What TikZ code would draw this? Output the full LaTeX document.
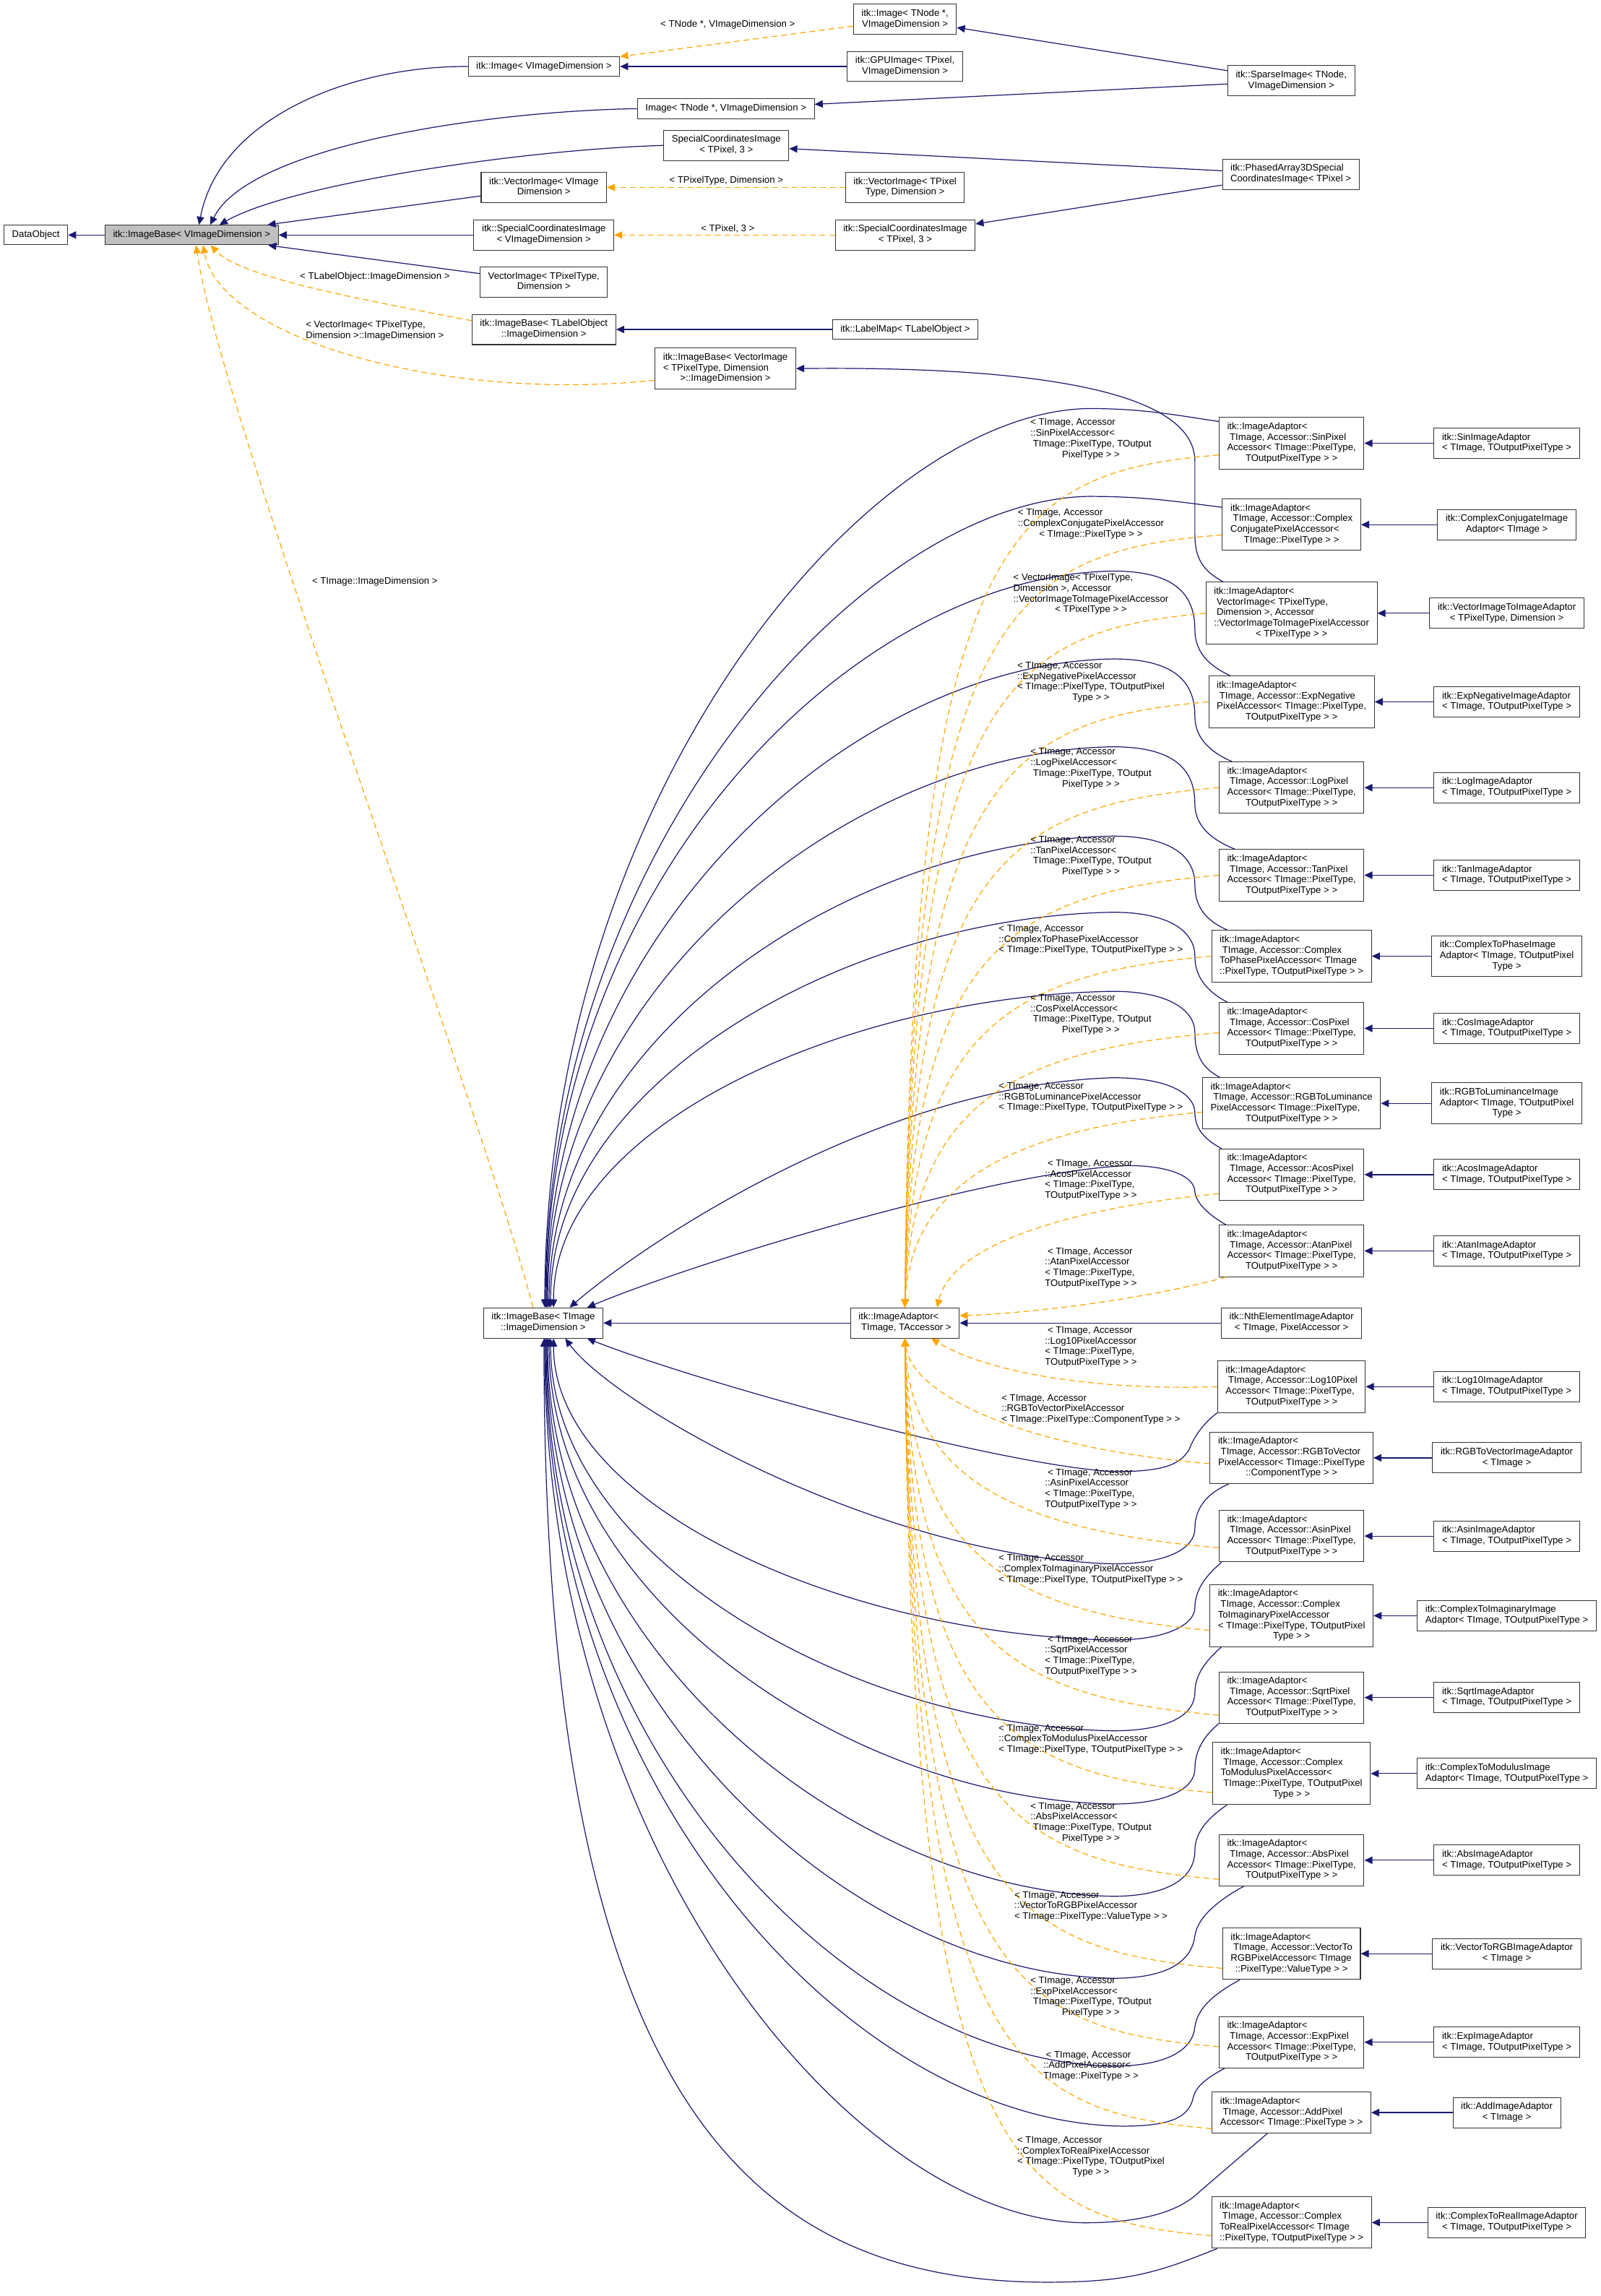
\documentclass[tikz,border=0pt]{standalone}
\usepackage{fontspec}
\setmainfont{Liberation Sans}
\usetikzlibrary{arrows.meta}
\definecolor{inhblue}{HTML}{191970}
\definecolor{tmplorange}{HTML}{FFA500}
% lines left aligned, last line centred
\newcommand{\dlines}[2]{\begin{tabular}{@{}l@{}}#1\\\multicolumn{1}{@{}c@{}}{#2}\end{tabular}}
\tikzset{
  cls/.style={draw=black!80, line width=0.5pt, fill=white, inner xsep=5.5pt, inner ysep=3.1pt, minimum height=13.5pt, font=\fontsize{6.5}{7.25}\selectfont},
  rootcls/.style={cls, fill=gray!50},
  elabel/.style={inner sep=0pt, font=\fontsize{6.5}{7.25}\selectfont},
  inhedge/.style={draw=inhblue, line width=0.6pt, -{Triangle[length=5.5pt,width=5pt]}},
  tmpledge/.style={draw=tmplorange, line width=0.6pt, dash pattern=on 4pt off 2.5pt, -{Triangle[length=5.5pt,width=5pt]}},
}
\begin{document}
\begin{tikzpicture}[x=1pt,y=-1pt]
\useasboundingbox (0,0) rectangle (1093,1568);
% top classes
\node[cls] (dobj) at (24.5,160.5) {DataObject};
\node[rootcls] (ibvd) at (130.9,160.5) {itk::ImageBase< VImageDimension >};
\node[cls] (imgvd) at (371.5,45.4) {itk::Image< VImageDimension >};
\node[cls] (imgtnitk) at (618,13.2) {\dlines{itk::Image< TNode *,}{VImageDimension >}};
\node[cls] (gpu) at (618,45.4) {\dlines{itk::GPUImage< TPixel,}{VImageDimension >}};
\node[cls] (sparse) at (881.8,55.2) {\dlines{itk::SparseImage< TNode,}{VImageDimension >}};
\node[cls] (imgtn) at (495.7,74.2) {Image< TNode *, VImageDimension >};
\node[cls] (sci3) at (496,99.3) {\dlines{SpecialCoordinatesImage}{< TPixel, 3 >}};
\node[cls] (phased) at (881.5,119) {\dlines{itk::PhasedArray3DSpecial}{CoordinatesImage< TPixel >}};
\node[cls] (vimgvd) at (371.4,128) {\dlines{itk::VectorImage< VImage}{Dimension >}};
\node[cls] (vimgtpitk) at (618,128) {\dlines{itk::VectorImage< TPixel}{Type, Dimension >}};
\node[cls] (scivd) at (371.4,160.5) {\dlines{itk::SpecialCoordinatesImage}{< VImageDimension >}};
\node[cls] (sci3itk) at (618.2,160.5) {\dlines{itk::SpecialCoordinatesImage}{< TPixel, 3 >}};
\node[cls] (vimgtp) at (371.4,192.7) {\dlines{VectorImage< TPixelType,}{Dimension >}};
\node[cls] (ibtl) at (371.4,225) {\dlines{itk::ImageBase< TLabelObject}{::ImageDimension >}};
\node[cls] (lmap) at (618.2,225) {itk::LabelMap< TLabelObject >};
\node[cls] (ibvi) at (495.4,251.7) {\dlines{itk::ImageBase< VectorImage\\< TPixelType, Dimension}{>::ImageDimension >}};
% middle classes
\node[cls] (ibti) at (371,903.5) {\dlines{itk::ImageBase< TImage}{::ImageDimension >}};
\node[cls] (ia) at (618,903.5) {\dlines{itk::ImageAdaptor<}{~TImage, TAccessor >}};
% adaptor instances
\node[cls] (a1) at (882,302.7) {\dlines{itk::ImageAdaptor<\\~TImage, Accessor::SinPixel\\Accessor< TImage::PixelType,}{TOutputPixelType > >}};
\node[cls] (a2) at (882,358.3) {\dlines{itk::ImageAdaptor<\\~TImage, Accessor::Complex\\ConjugatePixelAccessor<}{TImage::PixelType > >}};
\node[cls] (a3) at (882,418.8) {\dlines{itk::ImageAdaptor<\\~VectorImage< TPixelType,\\~Dimension >, Accessor\\::VectorImageToImagePixelAccessor}{< TPixelType > >}};
\node[cls] (a4) at (882,479.3) {\dlines{itk::ImageAdaptor<\\~TImage, Accessor::ExpNegative\\PixelAccessor< TImage::PixelType,}{TOutputPixelType > >}};
\node[cls] (a5) at (882,537.9) {\dlines{itk::ImageAdaptor<\\~TImage, Accessor::LogPixel\\Accessor< TImage::PixelType,}{TOutputPixelType > >}};
\node[cls] (a6) at (882,597.7) {\dlines{itk::ImageAdaptor<\\~TImage, Accessor::TanPixel\\Accessor< TImage::PixelType,}{TOutputPixelType > >}};
\node[cls] (a7) at (882,653) {\dlines{itk::ImageAdaptor<\\~TImage, Accessor::Complex\\ToPhasePixelAccessor< TImage}{::PixelType, TOutputPixelType > >}};
\node[cls] (a8) at (882,702.3) {\dlines{itk::ImageAdaptor<\\~TImage, Accessor::CosPixel\\Accessor< TImage::PixelType,}{TOutputPixelType > >}};
\node[cls] (a9) at (882,753.5) {\dlines{itk::ImageAdaptor<\\~TImage, Accessor::RGBToLuminance\\PixelAccessor< TImage::PixelType,}{TOutputPixelType > >}};
\node[cls] (a10) at (882,802.2) {\dlines{itk::ImageAdaptor<\\~TImage, Accessor::AcosPixel\\Accessor< TImage::PixelType,}{TOutputPixelType > >}};
\node[cls] (a11) at (882,854.3) {\dlines{itk::ImageAdaptor<\\~TImage, Accessor::AtanPixel\\Accessor< TImage::PixelType,}{TOutputPixelType > >}};
\node[cls] (a12) at (882,903.5) {\dlines{itk::NthElementImageAdaptor}{< TImage, PixelAccessor >}};
\node[cls] (a13) at (882,947) {\dlines{itk::ImageAdaptor<\\~TImage, Accessor::Log10Pixel\\Accessor< TImage::PixelType,}{TOutputPixelType > >}};
\node[cls] (a14) at (882,995.6) {\dlines{itk::ImageAdaptor<\\~TImage, Accessor::RGBToVector\\PixelAccessor< TImage::PixelType}{::ComponentType > >}};
\node[cls] (a15) at (882,1049) {\dlines{itk::ImageAdaptor<\\~TImage, Accessor::AsinPixel\\Accessor< TImage::PixelType,}{TOutputPixelType > >}};
\node[cls] (a16) at (882,1103.4) {\dlines{itk::ImageAdaptor<\\~TImage, Accessor::Complex\\ToImaginaryPixelAccessor\\< TImage::PixelType, TOutputPixel}{Type > >}};
\node[cls] (a17) at (882,1159.3) {\dlines{itk::ImageAdaptor<\\~TImage, Accessor::SqrtPixel\\Accessor< TImage::PixelType,}{TOutputPixelType > >}};
\node[cls] (a18) at (882,1211.2) {\dlines{itk::ImageAdaptor<\\~TImage, Accessor::Complex\\ToModulusPixelAccessor<\\~TImage::PixelType, TOutputPixel}{Type > >}};
\node[cls] (a19) at (882,1270.4) {\dlines{itk::ImageAdaptor<\\~TImage, Accessor::AbsPixel\\Accessor< TImage::PixelType,}{TOutputPixelType > >}};
\node[cls] (a20) at (882,1334.2) {\dlines{itk::ImageAdaptor<\\~TImage, Accessor::VectorTo\\RGBPixelAccessor< TImage}{::PixelType::ValueType > >}};
\node[cls] (a21) at (882,1394.7) {\dlines{itk::ImageAdaptor<\\~TImage, Accessor::ExpPixel\\Accessor< TImage::PixelType,}{TOutputPixelType > >}};
\node[cls] (a22) at (882,1442.7) {\dlines{itk::ImageAdaptor<\\~TImage, Accessor::AddPixel}{Accessor< TImage::PixelType > >}};
\node[cls] (a23) at (882,1517.8) {\dlines{itk::ImageAdaptor<\\~TImage, Accessor::Complex\\ToRealPixelAccessor< TImage}{::PixelType, TOutputPixelType > >}};
% final adaptors
\node[cls] (f1) at (1029,302.7) {\dlines{itk::SinImageAdaptor}{< TImage, TOutputPixelType >}};
\node[cls] (f2) at (1029,358.3) {\dlines{itk::ComplexConjugateImage}{Adaptor< TImage >}};
\node[cls] (f3) at (1029,418.8) {\dlines{itk::VectorImageToImageAdaptor}{< TPixelType, Dimension >}};
\node[cls] (f4) at (1029,479.3) {\dlines{itk::ExpNegativeImageAdaptor}{< TImage, TOutputPixelType >}};
\node[cls] (f5) at (1029,537.9) {\dlines{itk::LogImageAdaptor}{< TImage, TOutputPixelType >}};
\node[cls] (f6) at (1029,597.7) {\dlines{itk::TanImageAdaptor}{< TImage, TOutputPixelType >}};
\node[cls] (f7) at (1029,653) {\dlines{itk::ComplexToPhaseImage\\Adaptor< TImage, TOutputPixel}{Type >}};
\node[cls] (f8) at (1029,702.3) {\dlines{itk::CosImageAdaptor}{< TImage, TOutputPixelType >}};
\node[cls] (f9) at (1029,753.5) {\dlines{itk::RGBToLuminanceImage\\Adaptor< TImage, TOutputPixel}{Type >}};
\node[cls] (f10) at (1029,802.2) {\dlines{itk::AcosImageAdaptor}{< TImage, TOutputPixelType >}};
\node[cls] (f11) at (1029,854.3) {\dlines{itk::AtanImageAdaptor}{< TImage, TOutputPixelType >}};
\node[cls] (f13) at (1029,947) {\dlines{itk::Log10ImageAdaptor}{< TImage, TOutputPixelType >}};
\node[cls] (f14) at (1029,995.6) {\dlines{itk::RGBToVectorImageAdaptor}{< TImage >}};
\node[cls] (f15) at (1029,1049) {\dlines{itk::AsinImageAdaptor}{< TImage, TOutputPixelType >}};
\node[cls] (f16) at (1029,1103.4) {\dlines{itk::ComplexToImaginaryImage}{Adaptor< TImage, TOutputPixelType >}};
\node[cls] (f17) at (1029,1159.3) {\dlines{itk::SqrtImageAdaptor}{< TImage, TOutputPixelType >}};
\node[cls] (f18) at (1029,1211.2) {\dlines{itk::ComplexToModulusImage}{Adaptor< TImage, TOutputPixelType >}};
\node[cls] (f19) at (1029,1270.4) {\dlines{itk::AbsImageAdaptor}{< TImage, TOutputPixelType >}};
\node[cls] (f20) at (1029,1334.2) {\dlines{itk::VectorToRGBImageAdaptor}{< TImage >}};
\node[cls] (f21) at (1029,1394.7) {\dlines{itk::ExpImageAdaptor}{< TImage, TOutputPixelType >}};
\node[cls] (f22) at (1029,1442.7) {\dlines{itk::AddImageAdaptor}{< TImage >}};
\node[cls] (f23) at (1029,1517.8) {\dlines{itk::ComplexToRealImageAdaptor}{< TImage, TOutputPixelType >}};

% top edges
\draw[inhedge] (ibvd) -- (dobj);
\draw[inhedge] (imgvd.west) .. controls (240,45) and (150,80) .. ([xshift=5pt]ibvd.north);
\draw[inhedge] (imgtn.west) .. controls (330,76) and (170,100) .. ([xshift=12.7pt]ibvd.north);
\draw[inhedge] (sci3.west) .. controls (360,102) and (200,125) .. ([xshift=19pt]ibvd.north);
\draw[inhedge] (vimgvd) -- (ibvd);
\draw[inhedge] (scivd) -- (ibvd);
\draw[inhedge] (vimgtp) -- (ibvd);
\draw[inhedge] (gpu) -- (imgvd);
\draw[tmpledge] (imgtnitk) -- (imgvd);
\draw[inhedge] (sparse) -- (imgtnitk);
\draw[inhedge] (sparse) -- (imgtn);
\draw[inhedge] (phased) -- (sci3);
\draw[inhedge] (phased) -- (sci3itk);
\draw[tmpledge] (vimgtpitk) -- (vimgvd);
\draw[tmpledge] (sci3itk) -- (scivd);
\draw[inhedge] (lmap) -- (ibtl);
\draw[tmpledge] ([yshift=6pt]ibtl.west) .. controls (250,205) and (165,190) .. ([xshift=13pt]ibvd.south);
\draw[tmpledge] ([yshift=-8pt]ibvi.west) .. controls (300,275) and (150,230) .. ([xshift=7.8pt]ibvd.south);
\draw[tmpledge] ([xshift=-7pt]ibti.north) .. controls (330,760) and (150,280) .. ([xshift=3pt]ibvd.south);
\node[elabel] (ltnode) at (497,17) {< TNode *, VImageDimension >};
\node[elabel] (ltpix) at (496,123.5) {< TPixelType, Dimension >};
\node[elabel] (lpix3) at (497,156) {< TPixel, 3 >};
\node[elabel] (llabel) at (256,189) {< TLabelObject::ImageDimension >};
\node[elabel] (lvec) at (256,226) {\dlines{< VectorImage< TPixelType,}{Dimension >::ImageDimension >}};
\node[elabel] (limg) at (256,397) {< TImage::ImageDimension >};

% middle edges
\draw[inhedge] (ia) -- (ibti);
\draw[inhedge] (a12) -- (ia);
\draw[inhedge] ([xshift=12pt]a3.north west) .. controls (822,390) and (816,382) .. (816,365) -- (816,315) .. controls (816,270) and (720,250) .. (ibvi.east);

% blue edges above
\draw[inhedge] ([yshift=-3pt]a1.north west) .. controls (800,283) and (780,279) .. (743,279) .. controls (590,282) and (373,545) .. ([xshift=1pt]ibti.north);
\draw[inhedge] ([yshift=-6pt]a2.north west) .. controls (800,342) and (780,339) .. (743,339) .. controls (590,342) and (373,580) .. ([xshift=1.5pt]ibti.north);
\draw[inhedge] ([xshift=15pt]a4.north west) .. controls (824,454) and (816,444) .. (816,430) .. controls (816,404) and (800,390) .. (760,390) .. controls (580,393) and (373,605) .. ([xshift=2pt]ibti.north);
\draw[inhedge] ([xshift=9pt]a5.north west) .. controls (825,513) and (816,503) .. (816,489) .. controls (816,464) and (800,450) .. (760,450) .. controls (580,453) and (373.5,640) .. ([xshift=2.5pt]ibti.north);
\draw[inhedge] ([xshift=11pt]a6.north west) .. controls (826,573) and (816,563) .. (816,549) .. controls (816,524) and (800,510) .. (760,510) .. controls (580,513) and (374,674) .. ([xshift=3pt]ibti.north);
\draw[inhedge] ([xshift=11pt]a7.north west) .. controls (822,628) and (816,618) .. (816,604) .. controls (816,585) and (800,571) .. (760,571) .. controls (580,574) and (375,708) .. ([xshift=4pt]ibti.north);
\draw[inhedge] ([xshift=6pt]a8.north west) .. controls (824,677) and (816,667) .. (816,653) .. controls (816,637) and (800,623) .. (760,623) .. controls (580,626) and (376,738) .. ([xshift=5pt]ibti.north);
\draw[inhedge] ([xshift=12pt]a9.north west) .. controls (820,729) and (816,719) .. (816,705) .. controls (816,691) and (800,677) .. (760,677) .. controls (580,680) and (378,768) .. ([xshift=7pt]ibti.north);
\draw[inhedge] ([xshift=2pt]a10.north west) .. controls (822,778) and (816,770) .. (816,760) .. controls (816,748) and (800,736) .. (760,736) .. controls (600,741) and (440,849) .. ([xshift=18pt]ibti.north);
\draw[inhedge] ([xshift=5pt]a11.north west) .. controls (826,830) and (817,822) .. (816,814) .. controls (816,804) and (800,796) .. (770,796) .. controls (680,800) and (480,860) .. ([xshift=30pt]ibti.north);

% blue edges below
\draw[inhedge] (a13.south west) .. controls (822,972) and (816,980) .. (812,990) .. controls (805,1002) and (790,1005) .. (760,1005) .. controls (680,1000) and (480,945) .. ([xshift=30pt]ibti.south);
\draw[inhedge] ([xshift=13pt]a14.south west) .. controls (824,1020) and (816,1030) .. (816,1044) .. controls (816,1056) and (800,1068) .. (760,1068) .. controls (600,1063) and (420,960) .. ([xshift=15pt]ibti.south);
\draw[inhedge] ([xshift=2pt]a15.south west) .. controls (826,1074) and (816,1084) .. (816,1098) .. controls (816,1108) and (800,1120) .. (760,1120) .. controls (580,1117) and (378,1030) .. ([xshift=7pt]ibti.south);
\draw[inhedge] ([xshift=8pt]a16.south west) .. controls (826,1132) and (816,1142) .. (816,1156) .. controls (816,1170) and (800,1182) .. (760,1182) .. controls (580,1179) and (376,1062) .. ([xshift=5pt]ibti.south);
\draw[inhedge] (a17.south west) .. controls (824,1184) and (816,1194) .. (816,1208) .. controls (816,1220) and (800,1232) .. (760,1232) .. controls (580,1229) and (375,1090) .. ([xshift=4pt]ibti.south);
\draw[inhedge] ([xshift=10pt]a18.south west) .. controls (827,1240) and (816,1250) .. (816,1264) .. controls (816,1281) and (800,1295) .. (760,1295) .. controls (580,1292) and (374,1125) .. ([xshift=3pt]ibti.south);
\draw[inhedge] ([xshift=17pt]a19.south west) .. controls (835,1296) and (818,1308) .. (816,1322) .. controls (814,1338) and (800,1351) .. (760,1351) .. controls (580,1348) and (373.5,1160) .. ([xshift=2.5pt]ibti.south);
\draw[inhedge] ([xshift=12pt]a20.south west) .. controls (832,1360) and (818,1370) .. (816,1384) .. controls (815,1398) and (800,1411) .. (760,1411) .. controls (580,1408) and (373,1195) .. ([xshift=2pt]ibti.south);
\draw[inhedge] ([xshift=4pt]a21.south west) .. controls (826,1418) and (817,1424) .. (815,1432) .. controls (812,1446) and (800,1452) .. (766,1452) .. controls (580,1449) and (372.5,1220) .. ([xshift=1.5pt]ibti.south);
\draw[inhedge] ([xshift=38pt]a22.south west) -- (820,1496) .. controls (810,1506) and (790,1518) .. (740,1518) .. controls (580,1515) and (372,1260) .. ([xshift=1pt]ibti.south);
\draw[inhedge] ([xshift=4pt]a23.south west) .. controls (800,1548) and (780,1556) .. (740,1558) .. controls (520,1568) and (371.5,1450) .. ([xshift=0.5pt]ibti.south);

\draw[inhedge] (f1) -- (a1);
\draw[inhedge] (f2) -- (a2);
\draw[inhedge] (f3) -- (a3);
\draw[inhedge] (f4) -- (a4);
\draw[inhedge] (f5) -- (a5);
\draw[inhedge] (f6) -- (a6);
\draw[inhedge] (f7) -- (a7);
\draw[inhedge] (f8) -- (a8);
\draw[inhedge] (f9) -- (a9);
\draw[inhedge] (f10) -- (a10);
\draw[inhedge] (f11) -- (a11);
\draw[inhedge] (f13) -- (a13);
\draw[inhedge] (f14) -- (a14);
\draw[inhedge] (f15) -- (a15);
\draw[inhedge] (f16) -- (a16);
\draw[inhedge] (f17) -- (a17);
\draw[inhedge] (f18) -- (a18);
\draw[inhedge] (f19) -- (a19);
\draw[inhedge] (f20) -- (a20);
\draw[inhedge] (f21) -- (a21);
\draw[inhedge] (f22) -- (a22);
\draw[inhedge] (f23) -- (a23);

% template instances
\draw[tmpledge] ([yshift=-8pt]a1.west) .. controls (690,323) and (622,361) .. (ia.north);
\draw[tmpledge] ([yshift=-7pt]a2.west) .. controls (690,377) and (622,415) .. (ia.north);
\draw[tmpledge] (a3.west) .. controls (690,431) and (622,469) .. (ia.north);
\draw[tmpledge] (a4.west) .. controls (690,491) and (622,529) .. (ia.north);
\draw[tmpledge] (a5.west) .. controls (690,550) and (622,588) .. (ia.north);
\draw[tmpledge] (a6.west) .. controls (690,610) and (622,648) .. (ia.north);
\draw[tmpledge] (a7.west) .. controls (690,665) and (622,703) .. (ia.north);
\draw[tmpledge] ([yshift=-3pt]a8.west) .. controls (690,717) and (622,755) .. (ia.north);
\draw[tmpledge] ([yshift=-6pt]a9.west) .. controls (690,771) and (622,809) .. (ia.north);
\draw[tmpledge] ([yshift=-13pt]a10.west) .. controls (730,825) and (650,850) .. ([xshift=22pt]ia.north);
\draw[tmpledge] ([xshift=5pt]a11.south west) .. controls (780,888) and (700,897) .. ([yshift=5pt]ia.east);
\draw[tmpledge] (a13.west) .. controls (740,950) and (670,935) .. ([xshift=18pt]ia.south);
\draw[tmpledge] ([yshift=-4pt]a14.west) .. controls (690,988) and (622,950) .. (ia.south);
\draw[tmpledge] ([yshift=-8pt]a15.west) .. controls (690,1045) and (622,1007) .. (ia.south);
\draw[tmpledge] ([yshift=-10pt]a16.west) .. controls (690,1101) and (622,1063) .. (ia.south);
\draw[tmpledge] ([yshift=-12pt]a17.west) .. controls (690,1159) and (622,1121) .. (ia.south);
\draw[tmpledge] ([yshift=-13pt]a18.west) .. controls (690,1212) and (622,1174) .. (ia.south);
\draw[tmpledge] ([yshift=-13pt]a19.west) .. controls (690,1271) and (622,1233) .. (ia.south);
\draw[tmpledge] ([yshift=-10pt]a20.west) .. controls (690,1332) and (622,1294) .. (ia.south);
\draw[tmpledge] ([yshift=-3pt]a21.west) .. controls (690,1386) and (622,1348) .. (ia.south);
\draw[tmpledge] ([yshift=-11pt]a22.west) .. controls (690,1442) and (622,1404) .. (ia.south);
\draw[tmpledge] ([yshift=-9pt]a23.west) .. controls (690,1515) and (622,1477) .. (ia.south);

% instance labels
\node[elabel] (l1) at (745,300) {\dlines{< TImage, Accessor\\::SinPixelAccessor<\\~TImage::PixelType, TOutput}{PixelType > >}};
\node[elabel] (l2) at (745,358) {\dlines{< TImage, Accessor\\::ComplexConjugatePixelAccessor}{< TImage::PixelType > >}};
\node[elabel] (l3) at (745,406) {\dlines{< VectorImage< TPixelType,\\Dimension >, Accessor\\::VectorImageToImagePixelAccessor}{< TPixelType > >}};
\node[elabel] (l4) at (745,466) {\dlines{< TImage, Accessor\\::ExpNegativePixelAccessor\\< TImage::PixelType, TOutputPixel}{Type > >}};
\node[elabel] (l5) at (745,525) {\dlines{< TImage, Accessor\\::LogPixelAccessor<\\~TImage::PixelType, TOutput}{PixelType > >}};
\node[elabel] (l6) at (745,585) {\dlines{< TImage, Accessor\\::TanPixelAccessor<\\~TImage::PixelType, TOutput}{PixelType > >}};
\node[elabel] (l7) at (745,642) {\dlines{< TImage, Accessor\\::ComplexToPhasePixelAccessor}{< TImage::PixelType, TOutputPixelType > >}};
\node[elabel] (l8) at (745,693) {\dlines{< TImage, Accessor\\::CosPixelAccessor<\\~TImage::PixelType, TOutput}{PixelType > >}};
\node[elabel] (l9) at (745,749.5) {\dlines{< TImage, Accessor\\::RGBToLuminancePixelAccessor}{< TImage::PixelType, TOutputPixelType > >}};
\node[elabel] (l10) at (745,806) {\dlines{~< TImage, Accessor\\::AcosPixelAccessor\\< TImage::PixelType,}{TOutputPixelType > >}};
\node[elabel] (l11) at (745,866) {\dlines{~< TImage, Accessor\\::AtanPixelAccessor\\< TImage::PixelType,}{TOutputPixelType > >}};
\node[elabel] (l13) at (745,920) {\dlines{~< TImage, Accessor\\::Log10PixelAccessor\\< TImage::PixelType,}{TOutputPixelType > >}};
\node[elabel] (l14) at (745,962.5) {\dlines{< TImage, Accessor\\::RGBToVectorPixelAccessor}{< TImage::PixelType::ComponentType > >}};
\node[elabel] (l15) at (745,1017) {\dlines{~< TImage, Accessor\\::AsinPixelAccessor\\< TImage::PixelType,}{TOutputPixelType > >}};
\node[elabel] (l16) at (745,1072) {\dlines{< TImage, Accessor\\::ComplexToImaginaryPixelAccessor}{< TImage::PixelType, TOutputPixelType > >}};
\node[elabel] (l17) at (745,1131) {\dlines{~< TImage, Accessor\\::SqrtPixelAccessor\\< TImage::PixelType,}{TOutputPixelType > >}};
\node[elabel] (l18) at (745,1188) {\dlines{< TImage, Accessor\\::ComplexToModulusPixelAccessor}{< TImage::PixelType, TOutputPixelType > >}};
\node[elabel] (l19) at (745,1245) {\dlines{< TImage, Accessor\\::AbsPixelAccessor<\\~TImage::PixelType, TOutput}{PixelType > >}};
\node[elabel] (l20) at (745,1302) {\dlines{< TImage, Accessor\\::VectorToRGBPixelAccessor}{< TImage::PixelType::ValueType > >}};
\node[elabel] (l21) at (745,1364) {\dlines{< TImage, Accessor\\::ExpPixelAccessor<\\~TImage::PixelType, TOutput}{PixelType > >}};
\node[elabel] (l22) at (745,1411) {\dlines{~< TImage, Accessor\\::AddPixelAccessor<}{TImage::PixelType > >}};
\node[elabel] (l23) at (745,1473) {\dlines{< TImage, Accessor\\::ComplexToRealPixelAccessor\\< TImage::PixelType, TOutputPixel}{Type > >}};
\end{tikzpicture}
\end{document}
